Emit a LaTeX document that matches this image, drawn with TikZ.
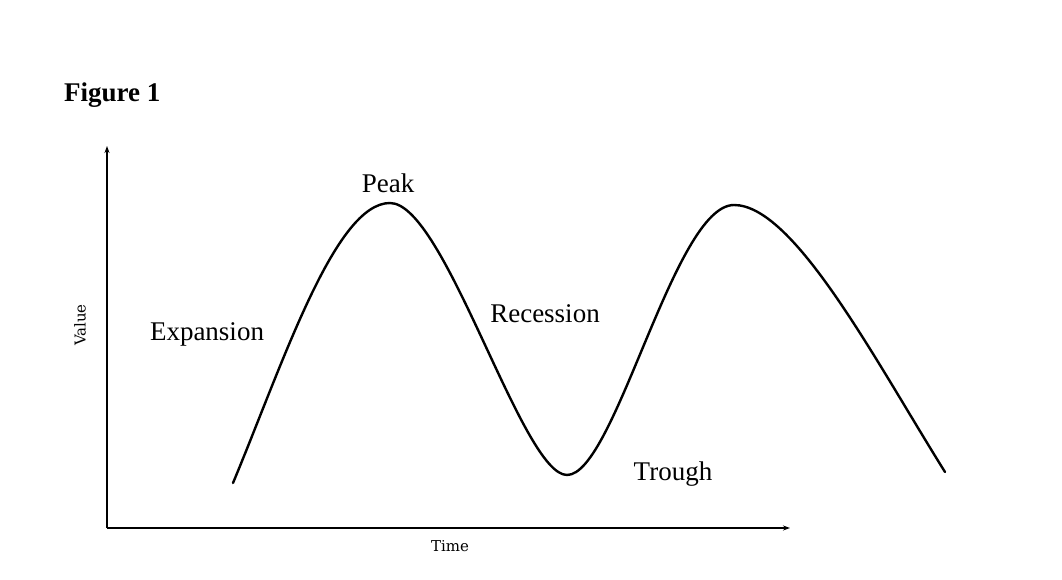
\documentclass[tikz,border=0pt]{standalone}
\usepackage{fontspec}
\setmainfont{Liberation Serif}
\newfontfamily\axisfont{DejaVu Serif}
\usetikzlibrary{arrows.meta}
\begin{document}
\begin{tikzpicture}[x=1pt,y=-1pt,
  lbl/.style={font=\fontsize{27}{31}\selectfont, inner sep=0pt},
  axlbl/.style={font=\axisfont\fontsize{15}{17}\selectfont, inner sep=0pt},
  axis/.style={line width=1.3pt, -{Stealth[length=7pt,width=5pt]}},
  wave/.style={line width=2.4pt, line cap=round}]
\useasboundingbox (0,0) rectangle (1062,580);
\fill[white] (0,0) rectangle (1062,580);
\node[font=\bfseries\fontsize{27}{31}\selectfont, anchor=west, inner sep=0pt] (fig) at (64,95) {Figure 1};
\coordinate (o) at (107,528);
\coordinate (ytop) at (107,146);
\coordinate (xend) at (790,528);
\draw[axis] (o) -- (ytop);
\draw[axis] (o) -- (xend);
\node[axlbl, rotate=90] (vlab) at (80,325) {Value};
\node[axlbl] (tlab) at (450,546) {Time};
\coordinate (s) at (233,483);
\coordinate (p1) at (390,203);
\coordinate (t1) at (567,475);
\coordinate (p2) at (734,205);
\coordinate (e) at (945,472);
\draw[wave] (s) .. controls (283,363) and (335,203) .. (p1)
  .. controls (445,203) and (522,475) .. (t1)
  .. controls (615,475) and (674,205) .. (p2)
  .. controls (794,205) and (875,360) .. (e);
\node[lbl] (peak) at (388,183) {Peak};
\node[lbl] (exp) at (207,334) {Expansion};
\node[lbl] (rec) at (545,314) {Recession};
\node[lbl] (tro) at (673,474) {Trough};
\end{tikzpicture}
\end{document}
